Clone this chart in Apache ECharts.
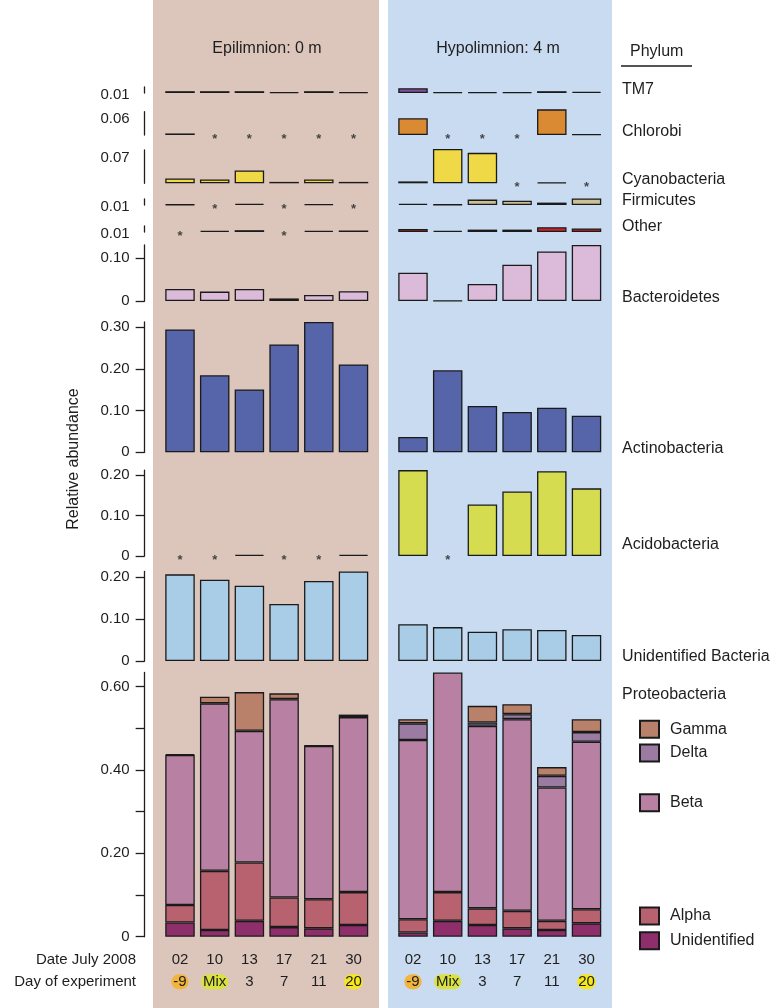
<!DOCTYPE html>
<html><head><meta charset="utf-8">
<script src="https://cdn.jsdelivr.net/npm/echarts@6/dist/echarts.min.js"></script>
<style>html,body{margin:0;padding:0;background:#fff}#c{width:776px;height:1008px}</style>
</head><body><div id="c"></div>
<script>
// ---------- DATA ----------
const dates = ['02','10','13','17','21','30'];
const days = ['-9','Mix','3','7','11','20'];
const phyla = ['TM7','Chlorobi','Cyanobacteria','Firmicutes','Other','Bacteroidetes','Actinobacteria','Acidobacteria','Unidentified Bacteria','Proteobacteria'];

const tm7Epi = [0.003,0.003,0.003,0.0015,0.003,0.0015];
const tm7Hypo = [0.008,0.001,0.0015,0.001,0.003,0.002];
const chlorobiEpi = [0.004,0,0,0,0,0];
const chlorobiHypo = [0.043,0,0,0,0.066,0.0015];
const cyanoEpi = [0.010,0.008,0.027,0.003,0.008,0.003];
const cyanoHypo = [0.004,0.072,0.064,0,0.002,0];
const firmEpi = [0.0008,0,0.002,0,0.0015,0];
const firmHypo = [0.002,0.0008,0.009,0.007,0.004,0.011];
const otherEpi = [0,0.002,0.003,0,0.002,0.0025];
const otherHypo = [0.005,0.002,0.004,0.004,0.008,0.006];
const bactEpi = [0.028,0.022,0.028,0.006,0.014,0.023];
const bactHypo = [0.066,0.001,0.040,0.085,0.116,0.131];
const actinoEpi = [0.295,0.185,0.151,0.259,0.313,0.211];
const actinoHypo = [0.037,0.197,0.111,0.097,0.107,0.088];
const acidoEpi = [0,0,0.003,0,0,0.003];
const acidoHypo = [0.212,0,0.127,0.159,0.209,0.167];
const unidEpi = [0.207,0.194,0.180,0.136,0.191,0.214];
const unidHypo = [0.088,0.081,0.070,0.076,0.074,0.062];

const proteoClasses = ['Unidentified','Alpha','Beta','Delta','Gamma'];
const pUnidEpi  = [0.034,0.016,0.038,0.023,0.020,0.028];
const pAlphaEpi = [0.042,0.142,0.140,0.071,0.070,0.079];
const pBetaEpi  = [0.360,0.402,0.316,0.476,0.368,0.420];
const pDeltaEpi = [0,0,0,0,0,0];
const pGammaEpi = [0.002,0.016,0.093,0.014,0.001,0.006];
const pUnidHypo  = [0.010,0.038,0.028,0.020,0.016,0.032];
const pAlphaHypo = [0.032,0.069,0.040,0.042,0.022,0.034];
const pBetaHypo  = [0.430,0.527,0.438,0.460,0.320,0.402];
const pDeltaHypo = [0.040,0,0.008,0.012,0.028,0.023];
const pGammaHypo = [0.010,0,0.040,0.024,0.021,0.031];

// scale bars / tick values
const tm7Scale = [0.01], chlorobiScale = [0.06], cyanoScale = [0.07], firmScale = [0.01], otherScale = [0.01];
const bactTicks = [0, 0.10];
const actinoTicks = [0, 0.10, 0.20, 0.30];
const acidoTicks = [0, 0.10, 0.20];
const unidTicks = [0, 0.10, 0.20];
const proteoTicks = [0, 0.10, 0.20, 0.30, 0.40, 0.50, 0.60];
const proteoLabels = [0, 0.20, 0.40, 0.60];

// ---------- LAYOUT / STYLE ----------
const FONT = 'Liberation Sans, Arial, Helvetica, sans-serif';
const INK = '#1e1e1e';
const LX = 162.65, RX = 395.65, GW = 208.2;
const BORDER = {borderColor: '#1a1a1a', borderWidth: 1.3};

const rows = [
  {name:'TM7', epi:tm7Epi, hypo:tm7Hypo, color:'#7e519c', top:87, height:6, scale:tm7Scale},
  {name:'Chlorobi', epi:chlorobiEpi, hypo:chlorobiHypo, color:'#d98a32', top:111.7, height:23.3, scale:chlorobiScale},
  {name:'Cyanobacteria', epi:cyanoEpi, hypo:cyanoHypo, color:'#f0d947', top:150, height:33.3, scale:cyanoScale},
  {name:'Firmicutes', epi:firmEpi, hypo:firmHypo, color:'#cbbf93', top:199, height:6, scale:firmScale},
  {name:'Other', epi:otherEpi, hypo:otherHypo, color:'#c8262e', top:226, height:6, scale:otherScale},
  {name:'Bacteroidetes', epi:bactEpi, hypo:bactHypo, color:'#dcbad9', top:245, height:56, ticks:bactTicks},
  {name:'Actinobacteria', epi:actinoEpi, hypo:actinoHypo, color:'#5664a9', top:321.9, height:130.4, ticks:actinoTicks},
  {name:'Acidobacteria', epi:acidoEpi, hypo:acidoHypo, color:'#d5dc50', top:470.1, height:85.9, ticks:acidoTicks},
  {name:'Unidentified Bacteria', epi:unidEpi, hypo:unidHypo, color:'#a9cde6', top:571.4, height:89.6, ticks:unidTicks}
];
const proteoColors = {Unidentified:'#8e2f6b', Alpha:'#b9626f', Beta:'#b880a2', Delta:'#9b7ba1', Gamma:'#b98169'};
const proteoEpi = [pUnidEpi, pAlphaEpi, pBetaEpi, pDeltaEpi, pGammaEpi];
const proteoHypo = [pUnidHypo, pAlphaHypo, pBetaHypo, pDeltaHypo, pGammaHypo];
const proteoLayout = {top:672.5, height:264.2};

const fmt = v => v === 0 ? '0' : v.toFixed(2);

const grid = [], xAxis = [], yAxis = [], series = [];

function addPair(top, height, yMax, yLeft, showX) {
  const idx = grid.length;
  [LX, RX].forEach((left, k) => {
    grid.push({left: left, top: top, width: GW, height: height});
    const xa = {gridIndex: idx + k, type: 'category', data: dates, show: false};
    if (showX) {
      xa.show = true;
      xa.axisLine = {show: false};
      xa.axisTick = {show: false};
      xa.axisLabel = {
        interval: 0, margin: 12.5, fontFamily: FONT, color: INK,
        formatter: (val, i) => {
          const d = days[i];
          const key = d === '-9' ? 'hO' : (d === 'Mix' ? 'hG' : (d === '20' ? 'hY' : 'p'));
          return '{p|' + val + '}\n{' + key + '|' + d + '}';
        },
        rich: {
          p: {fontSize: 15, lineHeight: 21.7, fontFamily: FONT, color: INK},
          hO: {fontSize: 15, lineHeight: 21.7, fontFamily: FONT, color: INK, backgroundColor: '#f1b43d', borderRadius: 9, padding: [0, 2]},
          hG: {fontSize: 15, lineHeight: 21.7, fontFamily: FONT, color: INK, backgroundColor: '#d9e23e', borderRadius: 9, padding: [0, 2]},
          hY: {fontSize: 15, lineHeight: 21.7, fontFamily: FONT, color: INK, backgroundColor: '#f6e71c', borderRadius: 9, padding: [0, 1]}
        }
      };
    }
    xAxis.push(xa);
    const ya = Object.assign({gridIndex: idx + k, type: 'value', min: 0, max: yMax, splitLine: {show: false}}, k === 0 ? yLeft : {show: false});
    yAxis.push(ya);
  });
  return idx;
}

function leftAxis(tickVals, labelVals, small) {
  return {
    show: true, offset: 18,
    axisLine: {show: true, lineStyle: {color: INK, width: 1.3}},
    axisTick: small ? {show: false} : {show: true, length: 9, inside: false, customValues: tickVals, lineStyle: {color: INK, width: 1.3}},
    axisLabel: {show: true, customValues: labelVals, formatter: fmt, margin: 15,
      fontSize: 15, fontFamily: FONT, color: INK, verticalAlign: small ? 'top' : 'middle'}
  };
}

function barSeries(name, values, color, axisIdx, stack) {
  return {
    type: 'bar', name: name, xAxisIndex: axisIdx, yAxisIndex: axisIdx,
    data: values.map(v => v === 0 ? '-' : v), barWidth: '85%', clip: false, stack: stack,
    itemStyle: Object.assign({color: color}, BORDER), silent: true, animation: false
  };
}
function starSeries(values, axisIdx) {
  return {
    type: 'scatter', xAxisIndex: axisIdx, yAxisIndex: axisIdx, symbolSize: 1, clip: false,
    itemStyle: {color: 'rgba(0,0,0,0)'}, silent: true, animation: false,
    data: values.map((v, i) => v === 0 ? [dates[i], 0] : null).filter(d => d),
    label: {show: true, formatter: '*', position: 'inside', offset: [0, 4], fontSize: 13, fontWeight: 'bold', color: INK, fontFamily: FONT}
  };
}

rows.forEach(r => {
  let yMax, la;
  if (r.scale) { yMax = r.scale[0]; la = leftAxis(null, r.scale, true); }
  else { yMax = Math.max(...r.epi, ...r.hypo); la = leftAxis(r.ticks, r.ticks, false); }
  const idx = addPair(r.top, r.height, yMax, la, false);
  series.push(barSeries(r.name, r.epi, r.color, idx));
  series.push(barSeries(r.name, r.hypo, r.color, idx + 1));
  series.push(starSeries(r.epi, idx));
  series.push(starSeries(r.hypo, idx + 1));
});

// Proteobacteria stacked
const sums = dates.map((d, i) => Math.max(proteoEpi.reduce((s, a) => s + a[i], 0), proteoHypo.reduce((s, a) => s + a[i], 0)));
const pMax = Math.max(...sums);
const pIdx = addPair(proteoLayout.top, proteoLayout.height, pMax, leftAxis(proteoTicks, proteoLabels, false), true);
proteoClasses.forEach((c, j) => {
  series.push(barSeries(c, proteoEpi[j], proteoColors[c], pIdx, 'pe'));
  series.push(barSeries(c, proteoHypo[j], proteoColors[c], pIdx + 1, 'ph'));
});

// ---------- ANNOTATIONS ----------
const phylumY = [90, 131.7, 180, 201, 226.7, 297.3, 448.3, 545, 656.7, 695];
const txt = (text, x, y, opts) => ({type: 'text', x: x, y: y, z: 10, silent: true,
  style: Object.assign({text: text, fill: INK, font: '16px ' + FONT, align: 'left', verticalAlign: 'middle'}, opts || {})});
const graphics = [
  {type: 'rect', shape: {x: 153, y: 0, width: 226, height: 1008}, style: {fill: '#dcc6bc'}, z: -10, silent: true},
  {type: 'rect', shape: {x: 388, y: 0, width: 224, height: 1008}, style: {fill: '#c9dbf0'}, z: -10, silent: true},
  txt('Epilimnion: 0 m', 267, 48.3, {align: 'center'}),
  txt('Hypolimnion: 4 m', 498, 48.3, {align: 'center'}),
  txt('Phylum', 630, 51.7),
  {type: 'line', shape: {x1: 621, y1: 66, x2: 692, y2: 66}, style: {stroke: '#555', lineWidth: 2}, z: 10, silent: true},
  txt('Date July 2008', 136, 960, {align: 'right', font: '15px ' + FONT}),
  txt('Day of experiment', 136, 981.7, {align: 'right', font: '15px ' + FONT}),
  {type: 'text', x: 74, y: 459, rotation: Math.PI / 2, z: 10, silent: true,
    style: {text: 'Relative abundance', fill: INK, font: '16px ' + FONT, align: 'center', verticalAlign: 'middle'}}
];
phyla.forEach((p, i) => graphics.push(txt(p, 622, phylumY[i])));

const legendBase = {orient: 'vertical', left: 634, icon: 'rect', itemWidth: 19, itemHeight: 17,
  selectedMode: false, textStyle: {fontSize: 16, fontFamily: FONT, color: INK, padding: [0, 0, 0, 6]}};

const option = {
  animation: false,
  grid: grid, xAxis: xAxis, yAxis: yAxis, series: series, graphic: graphics,
  legend: [
    Object.assign({}, legendBase, {top: 714.8, itemGap: 4.7, data: ['Gamma', 'Delta']}),
    Object.assign({}, legendBase, {top: 788.2, data: ['Beta']}),
    Object.assign({}, legendBase, {top: 901.5, itemGap: 5.7, data: ['Alpha', 'Unidentified']})
  ]
};
const chart = echarts.init(document.getElementById('c'), null, {renderer: 'canvas'});
chart.setOption(option);
</script>
</body></html>
